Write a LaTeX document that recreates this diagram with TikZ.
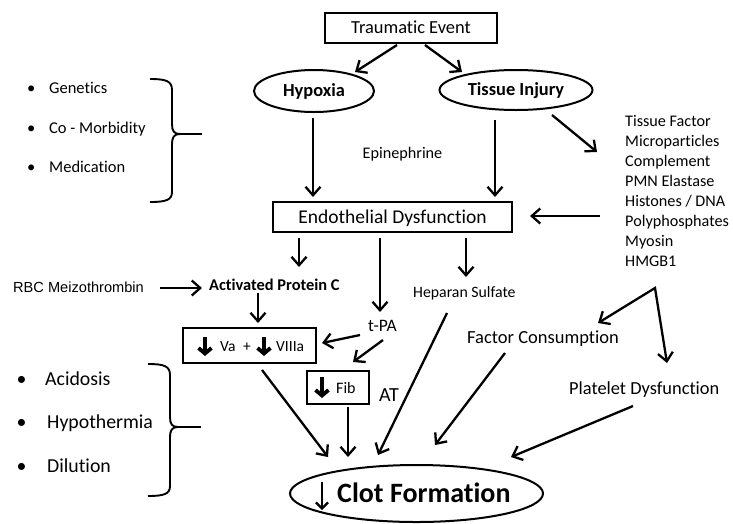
\documentclass[tikz,border=0pt]{standalone}
\usepackage{fontspec}
\setmainfont{Carlito}[Ligatures=NoCommon]
\newfontfamily\arialfam{Liberation Sans}
\usetikzlibrary{arrows.meta,shapes.geometric}
\newcommand\fsz[1]{\fontsize{#1}{#1}\selectfont}
\begin{document}
\begin{tikzpicture}[x=1pt,y=-1pt,
  arr/.style={line width=2.3pt,-{Straight Barb[length=8.5pt,width=15pt]}},
  arrtwo/.style={line width=2.3pt,line join=miter,{Straight Barb[length=8.5pt,width=15pt]}-{Straight Barb[length=8.5pt,width=15pt]}},
  boxn/.style={draw,line width=2.8pt,inner sep=0pt,text depth=0pt},
  oval/.style={draw,ellipse,line width=2pt,inner sep=0pt,text depth=0pt},
  t/.style={inner sep=0pt,anchor=base west},
  tc/.style={inner sep=0pt,anchor=base},
  brace/.style={line width=1.9pt,line join=round},
  down/.style={line width=3.8pt,-{Straight Barb[length=5.5pt,width=13pt]}},
  thindown/.style={line width=2.2pt,-{Straight Barb[length=6pt,width=12pt]}}]
\useasboundingbox (0,0) rectangle (733,523);

% top nodes
\node[boxn,minimum width=172,minimum height=30,text height=11.6pt] (te) at (411,28) {\fsz{18.4}Traumatic Event};
\node[oval,minimum width=120,minimum height=42,text height=11.6pt] (hyp) at (314,91) {\fsz{18.4}\bfseries Hypoxia};
\node[oval,minimum width=153,minimum height=40,text height=11.6pt] (ti) at (516,90) {\fsz{18.4}\bfseries Tissue Injury};

% upper left list
\node[t] (gen) at (27,93.2) {\fsz{16.5}\makebox[22pt][l]{•}Genetics};
\node[t] (com) at (27,133.2) {\fsz{16.5}\makebox[22pt][l]{•}Co - Morbidity};
\node[t] (med) at (27,172.2) {\fsz{16.5}\makebox[22pt][l]{•}Medication};
\draw[brace] (150,79) .. controls (166,79) and (172,81) .. (172,90) -- (172,124)
  .. controls (172,131) and (174,134) .. (180,134)
  .. controls (174,134) and (172,137) .. (172,145) -- (172,192)
  .. controls (172,200) and (166,202) .. (150,202);
\draw[brace] (180,134) -- (202,134);

\node[tc] (epi) at (402.5,158.2) {\fsz{16.2}Epinephrine};

% right list
\node[t] (l1) at (625,126.2) {\fsz{16.2}Tissue Factor};
\node[t] (l2) at (625,146.3) {\fsz{16.2}Microparticles};
\node[t] (l3) at (625,166.4) {\fsz{16.2}Complement};
\node[t] (l4) at (625,186.5) {\fsz{16.2}PMN Elastase};
\node[t] (l5) at (625,206.6) {\fsz{16.2}Histones / DNA};
\node[t] (l6) at (625,226.7) {\fsz{16.2}Polyphosphates};
\node[t] (l7) at (625,246.8) {\fsz{16.2}Myosin};
\node[t] (l8) at (625,266.9) {\fsz{16.2}HMGB1};

% endothelial dysfunction
\node[boxn,minimum width=239,minimum height=30,text height=12.6pt] (ed) at (392.5,217) {\fsz{19.5}Endothelial Dysfunction};

% middle texts
\node[t] (rbc) at (13,292.2) {\arialfam\fsz{14.6}RBC Meizothrombin};
\node[t] (apc) at (209,290.5) {\fsz{16.4}\bfseries Activated Protein C};
\node[t] (tpa) at (368,331.5) {\fsz{17.5}t-PA};
\node[t] (hs) at (413,297) {\fsz{15.8}Heparan Sulfate};
\node[t] (fc) at (467,343) {\fsz{18.5}Factor Consumption};
\node[t] (pd) at (569,394) {\fsz{18.4}Platelet Dysfunction};
\node[t] (at) at (379,401.4) {\fsz{20}AT};

% Va + VIIIa box
\node[draw,line width=2.4pt,minimum width=133,minimum height=35,inner sep=0pt] (va) at (249.5,345.5) {};
\node[t] (vat) at (220,351.7) {\fsz{15.5}Va};
\node[tc] (plus) at (247,351.7) {\fsz{15.5}+};
\node[t] (viii) at (276,351.7) {\fsz{15.5}VIIIa};
\draw[down] (205,337) -- (205,356);
\draw[down] (264,337) -- (264,356);

% Fib box
\node[draw,line width=2.4pt,minimum width=62,minimum height=33,inner sep=0pt] (fib) at (338,387.5) {};
\node[t] (fibt) at (336,393.2) {\fsz{16}Fib};
\draw[down] (322,377) -- (322,398);

% lower left list
\node[t] (aci) at (16.5,385.1) {\fsz{19.8}\makebox[28.5pt][l]{•}Acidosis};
\node[t] (hth) at (16.5,428.1) {\fsz{19.8}\makebox[30.5pt][l]{•}Hypothermia};
\node[t] (dil) at (16.5,472.1) {\fsz{19.8}\makebox[30.5pt][l]{•}Dilution};
\draw[brace] (148,364) .. controls (164,364) and (170,366) .. (170,375) -- (170,417)
  .. controls (170,424) and (172,427) .. (178,427)
  .. controls (172,427) and (170,430) .. (170,438) -- (170,486)
  .. controls (170,494) and (164,496) .. (148,496);
\draw[brace] (178,427) -- (201,427);

% clot formation
\node[draw,ellipse,line width=2pt,minimum width=253,minimum height=57,inner sep=0pt] (clot) at (416.5,493.5) {};
\node[t] (clott) at (337,502) {\fsz{28}\bfseries Clot Formation};
\draw[thindown] (322,482) -- (322,510);

% connectors
\draw[arr] ([shift={(-14,17)}]te.center) -- ([shift={(41,-19)}]hyp.center);
\draw[arr] ([shift={(14,17)}]te.center) -- ([shift={(-54,-18)}]ti.center);
\draw[arr] ([shift={(-1,27)}]hyp.center) -- ([shift={(-79.5,-20)}]ed.center);
\draw[arr] ([shift={(-21,30)}]ti.center) -- ([shift={(102.5,-20)}]ed.center);
\draw[arr] ([shift={(36,25)}]ti.center) -- ([shift={(-28,25.8)}]l1.base west);
\draw[arr] ([shift={(-25,-10.7)}]l6.base west) -- ([shift={(137.5,-1)}]ed.center);
\draw[arr] ([shift={(-93.5,21)}]ed.center) -- ([shift={(90,-23.5)}]apc.base west);
\draw[arr] ([shift={(-12.5,21)}]ed.center) -- ([shift={(12,-19.5)}]tpa.base west);
\draw[arr] ([shift={(73.5,21)}]ed.center) -- ([shift={(53,-20)}]hs.base west);
\draw[arr] ([shift={(147,-4.2)}]rbc.base west) -- ([shift={(-7,-2.5)}]apc.base west);
\draw[arr] ([shift={(49,2.5)}]apc.base west) -- ([shift={(8.5,-22.5)}]va.center);
\draw[arr] ([shift={(-8,3.5)}]tpa.base west) -- ([shift={(72.5,-2.5)}]va.center);
\draw[arr] ([shift={(15,8.5)}]tpa.base west) -- ([shift={(15,-25.5)}]fib.center);
\draw[arr] ([shift={(12.5,24.5)}]va.center) -- ([shift={(-88.5,-36.5)}]clot.center);
\draw[arr] ([shift={(10,19.5)}]fib.center) -- ([shift={(-68.5,-36.5)}]clot.center);
\draw[arr] ([shift={(34,16)}]hs.base west) -- ([shift={(-38.5,-38.5)}]clot.center);
\draw[arr] ([shift={(38,10)}]fc.base west) -- ([shift={(18.5,-48.5)}]clot.center);
\draw[arr] ([shift={(64,12)}]pd.base west) -- ([shift={(94.5,-36.5)}]clot.center);
\draw[arrtwo] ([shift={(131,-20)}]fc.base west) -- ([shift={(30,21.1)}]l8.base west) -- ([shift={(98,-31)}]pd.base west);
\end{tikzpicture}
\end{document}
